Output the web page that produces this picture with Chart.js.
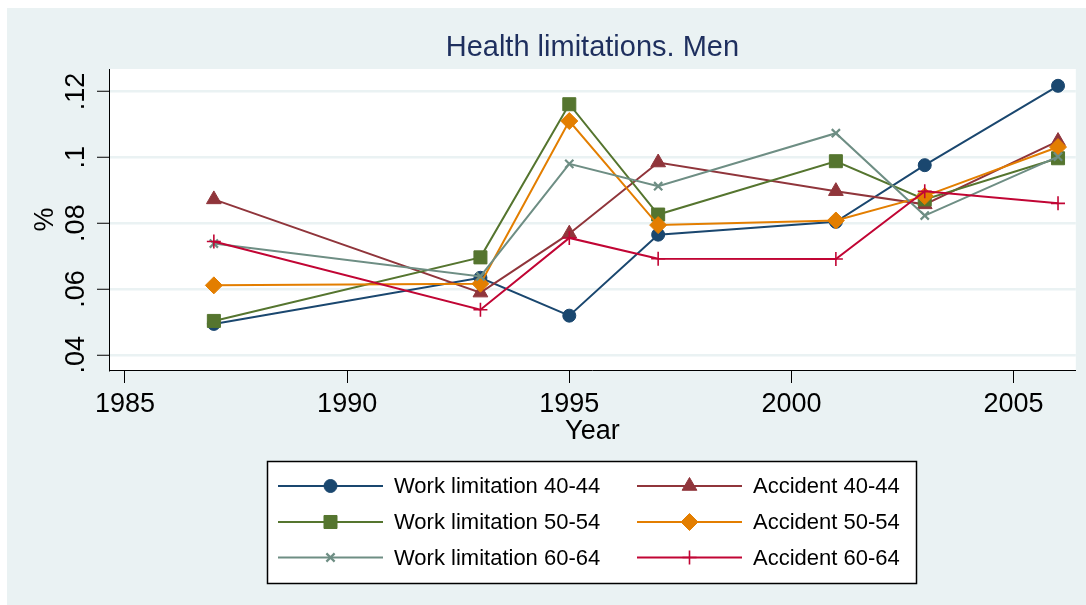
<!DOCTYPE html>
<html>
<head>
<meta charset="utf-8">
<script src="https://cdn.jsdelivr.net/npm/chart.js@4.4.0/dist/chart.umd.min.js"></script>
<style>
html, body { margin: 0; padding: 0; background: #fff; }
#wrap { width: 1086px; height: 605px; }
</style>
</head>
<body>
<div id="wrap"><canvas id="line" width="1086" height="605"></canvas></div>
<script>
var years = [1987, 1993, 1995, 1997, 2001, 2003, 2006];
var workLim4044 = [0.0494, 0.0634, 0.0519, 0.0765, 0.0804, 0.0976, 0.1217];
var accident4044 = [0.0872, 0.0589, 0.0768, 0.0984, 0.0897, 0.0857, 0.1049];
var workLim5054 = [0.0503, 0.0696, 0.1161, 0.0826, 0.0988, 0.0872, 0.0997];
var accident5054 = [0.0611, 0.0616, 0.1110, 0.0794, 0.0808, 0.0882, 0.1031];
var workLim6064 = [0.0738, 0.0638, 0.0980, 0.0912, 0.1073, 0.0823, 0.1002];
var accident6064 = [0.0744, 0.0537, 0.0755, 0.0692, 0.0691, 0.0897, 0.0860];
var seriesLabels = ['Work limitation 40-44', 'Accident 40-44', 'Work limitation 50-54',
    'Accident 50-54', 'Work limitation 60-64', 'Accident 60-64'];
var xTicks = [1985, 1990, 1995, 2000, 2005];
var yTicks = [0.04, 0.06, 0.08, 0.10, 0.12];
var yTickLabels = ['.04', '.06', '.08', '.1', '.12'];

var bgColor = '#eaf2f3';
var fontFam = "'Liberation Sans', Arial, Helvetica, sans-serif";
Chart.defaults.font.family = fontFam;
Chart.defaults.color = '#000';

function pts(vals) {
    var out = [];
    for (let i = 0; i < years.length; i++) {
        out.push({ x: years[i], y: vals[i] });
    }
    return out;
}

// s2color-ish palette, markers like the stata graph
var styles = [
    { color: '#1a476f', style: 'circle', r: 6.5, bw: 1 },
    { color: '#90353b', style: 'triangle', r: 8.5, bw: 1 },
    { color: '#55752f', style: 'rect', r: 9.2, bw: 1 },
    { color: '#e37e00', style: 'rectRot', r: 8.5, bw: 1 },
    { color: '#6e8e84', style: 'crossRot', r: 5.8, bw: 2.2 },
    { color: '#c10534', style: 'cross', r: 7, bw: 1.6 }
];
var allValues = [workLim4044, accident4044, workLim5054, accident5054, workLim6064, accident6064];

var datasets = [];
for (let i = 0; i < allValues.length; i++) {
    var s = styles[i];
    datasets.push({
        label: seriesLabels[i],
        data: pts(allValues[i]),
        borderColor: s.color,
        backgroundColor: s.color,
        borderWidth: 2,
        tension: 0,
        pointStyle: s.style,
        pointRadius: s.r,
        pointHoverRadius: s.r,
        pointBorderWidth: s.bw,
        pointBackgroundColor: s.color,
        pointBorderColor: s.color,
        order: allValues.length - i
    });
}

var background = {
    id: 'background',
    beforeDraw: function (chart) {
        var ctx = chart.ctx;
        var a = chart.chartArea;
        ctx.save();
        ctx.fillStyle = '#fff';
        ctx.fillRect(0, 0, chart.width, chart.height);
        ctx.fillStyle = bgColor;
        ctx.fillRect(7, 8, chart.width - 7, chart.height - 8);
        ctx.fillStyle = '#fff';
        ctx.fillRect(a.left, a.top, a.right - a.left, a.bottom - a.top);
        ctx.restore();
    }
};

// stata style legend: box under the plot, two columns, line + marker
var legendBox = {
    id: 'legendBox',
    afterDraw: function (chart) {
        var ctx = chart.ctx;
        var rowsY = [486, 522, 557.5];
        var lineStart = [278, 637];
        var lineEnd = [383, 742];
        var textX = [394, 753];
        ctx.save();
        ctx.fillStyle = '#fff';
        ctx.fillRect(267, 461, 649, 122);
        ctx.strokeStyle = '#000';
        ctx.lineWidth = 1.5;
        ctx.strokeRect(267.5, 461.5, 649, 122);
        chart.data.datasets.forEach(function (ds, i) {
            var row = Math.floor(i / 2), col = i % 2;
            var y = rowsY[row];
            ctx.strokeStyle = ds.borderColor;
            ctx.lineWidth = 2;
            ctx.beginPath();
            ctx.moveTo(lineStart[col], y);
            ctx.lineTo(lineEnd[col], y);
            ctx.stroke();
            var mx = (lineStart[col] + lineEnd[col]) / 2;
            ctx.fillStyle = ds.pointBackgroundColor;
            ctx.strokeStyle = ds.pointBorderColor;
            ctx.lineWidth = ds.pointBorderWidth;
            Chart.helpers.drawPoint(ctx, { pointStyle: ds.pointStyle, radius: ds.pointRadius, rotation: 0, borderWidth: ds.pointBorderWidth }, mx, y);
            ctx.fillStyle = '#000';
            ctx.font = '22px ' + fontFam;
            ctx.textBaseline = 'middle';
            ctx.textAlign = 'left';
            ctx.fillText(ds.label, textX[col], y + 1);
        });
        ctx.restore();
    }
};

var ctx = document.getElementById('line').getContext('2d');
var chart = new Chart(ctx, {
    type: 'line',
    data: { datasets: datasets },
    options: {
        responsive: false,
        devicePixelRatio: 1,
        animation: false,
        layout: { padding: { left: 0, right: 10, top: 0, bottom: 160 } },
        plugins: {
            legend: { display: false },
            tooltip: { enabled: false },
            title: {
                display: true,
                text: 'Health limitations. Men',
                color: '#1e2f5e',
                fullSize: false,
                font: { size: 29, weight: 'normal', lineHeight: 1 },
                padding: { top: 33.5, bottom: 6.5 }
            }
        },
        scales: {
            x: {
                type: 'linear',
                min: 1984.64,
                max: 2006.4,
                afterBuildTicks: function (scale) {
                    scale.ticks = xTicks.map(function (v) { return { value: v }; });
                },
                afterFit: function (scale) { scale.height = 75; },
                grid: { drawOnChartArea: false, tickLength: 13, tickColor: '#000', tickWidth: 1 },
                border: { display: true, color: '#000', width: 1 },
                ticks: {
                    font: { size: 27 }, color: '#000', padding: 5, maxRotation: 0,
                    callback: function (v) { return String(v); }
                },
                title: {
                    display: true, text: 'Year', color: '#000',
                    font: { size: 27, lineHeight: 1 }, padding: { top: 0, bottom: 0 }
                }
            },
            y: {
                type: 'linear',
                min: 0.0354,
                max: 0.1268,
                afterBuildTicks: function (scale) {
                    scale.ticks = yTicks.map(function (v) { return { value: v }; });
                },
                afterFit: function (scale) { scale.width = 109; },
                grid: { color: bgColor, lineWidth: 2.5, tickLength: 12, tickColor: '#000', tickWidth: 1 },
                border: { display: true, color: '#000', width: 1 },
                ticks: {
                    font: { size: 27 }, color: '#000', padding: 2,
                    minRotation: 90, maxRotation: 90, crossAlign: 'center',
                    callback: function (v, i) { return yTickLabels[i]; }
                },
                title: {
                    display: true, text: '%', color: '#000',
                    font: { size: 27, lineHeight: 1 }, padding: { top: 32, bottom: 0 }
                }
            }
        }
    },
    plugins: [background, legendBox]
});
</script>
</body>
</html>
